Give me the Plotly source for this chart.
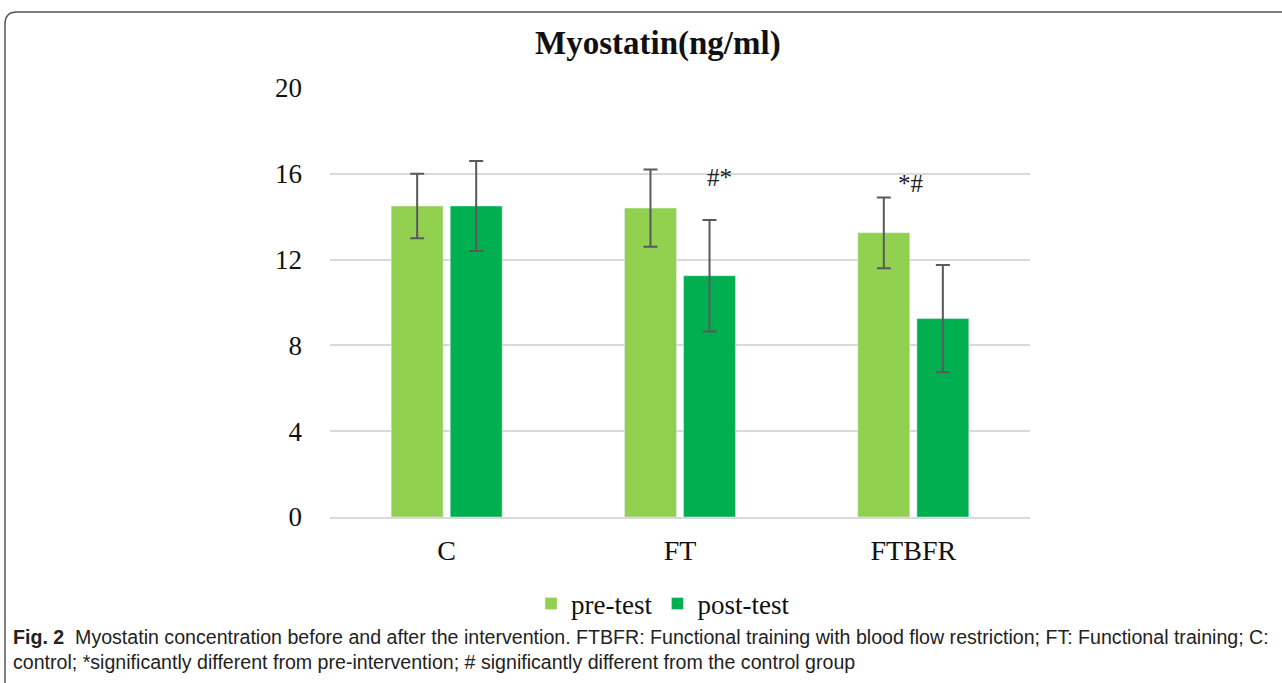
import plotly.graph_objects as go

# dados
groups = ["C", "FT", "FTBFR"]
pre_test = [14.5, 14.4, 13.25]
pre_err = [1.5, 1.8, 1.65]
post_test = [14.5, 11.25, 9.25]
post_err = [2.1, 2.6, 2.5]
marks = ["", "#*", "*#"]
mark_y = [None, 15.85, 15.55]
y_ticks = [0, 4, 8, 12, 16, 20]

W, H = 1282, 683
L, R, T, B = 330, 1030, 88, 517  # area do grafico em pixels


def px(x, y):
    # converte pixel da imagem para coordenadas 'paper'
    return (x - L) / (R - L), (B - y) / (B - T)


fig = go.Figure()

fig.add_trace(go.Bar(
    x=groups, y=pre_test, name="pre-test",
    marker=dict(color="#92D050"),
    error_y=dict(type="data", array=pre_err, color="#595959", thickness=2, width=7),
))
fig.add_trace(go.Bar(
    x=groups, y=post_test, name="post-test",
    marker=dict(color="#00B050"),
    error_y=dict(type="data", array=post_err, color="#595959", thickness=2, width=7),
))

serif = "Liberation Serif"

# marcas de significancia
for g, m, my in zip(groups, marks, mark_y):
    if not m:
        continue
    fig.add_annotation(
        x=g, y=my, xref="x", yref="y", text=m, showarrow=False,
        xshift=39 if m == "#*" else -2, yanchor="middle",
        font=dict(family=serif, size=25, color="#222"),
    )

tx, ty = px(658, 43)
fig.add_annotation(x=tx, y=ty, xref="paper", yref="paper", text="<b>Myostatin(ng/ml)</b>",
                   showarrow=False, xanchor="center", yanchor="middle",
                   font=dict(family=serif, size=33, color="#111"))

cx, cy = px(11, 624)
caption = ("<b>Fig. 2</b>  Myostatin concentration before and after the intervention. FTBFR: Functional training "
           "with blood flow restriction; FT: Functional training; C:<br>control; *significantly different from "
           "pre-intervention; # significantly different from the control group")
fig.add_annotation(x=cx, y=cy, xref="paper", yref="paper", text=caption, showarrow=False,
                   xanchor="left", yanchor="top", align="left",
                   font=dict(family="Liberation Sans", size=19.6, color="#222"))

# moldura arredondada
x0, y0 = px(5, 690)
x1, y1 = px(5, 24)
xk, yk = px(5, 12)
xc, yc = px(17, 12)
x2, _ = px(1300, 12)
fig.add_shape(type="path", xref="paper", yref="paper",
              path=f"M {x0},{y0} L {x1},{y1} Q {xk},{yk} {xc},{yc} L {x2},{yc}",
              line=dict(color="#555", width=1.5))

lx, ly = px(663, 604)
fig.update_layout(
    width=W, height=H,
    margin=dict(l=L, r=W - R, t=T, b=H - B, autoexpand=False),
    plot_bgcolor="white", paper_bgcolor="white",
    barmode="group", bargap=0.494, bargroupgap=0.12,
    xaxis=dict(showgrid=False, showline=True, linecolor="#d9d9d9", linewidth=1.5,
               tickfont=dict(family=serif, size=28, color="#111"), ticklabelstandoff=8),
    yaxis=dict(range=[0, 20], tickvals=y_ticks, showgrid=True, gridcolor="#d9d9d9", gridwidth=1.5,
               zeroline=False, tickfont=dict(family=serif, size=27, color="#111"), ticklabelstandoff=27),
    legend=dict(orientation="h", x=lx, y=ly, xanchor="center", yanchor="middle",
                font=dict(family=serif, size=27, color="#111"), itemwidth=30,
                traceorder="normal"),
    showlegend=True,
)

fig.write_html("out.html", config={"displayModeBar": False},
               post_script="document.body.style.margin='0';")
